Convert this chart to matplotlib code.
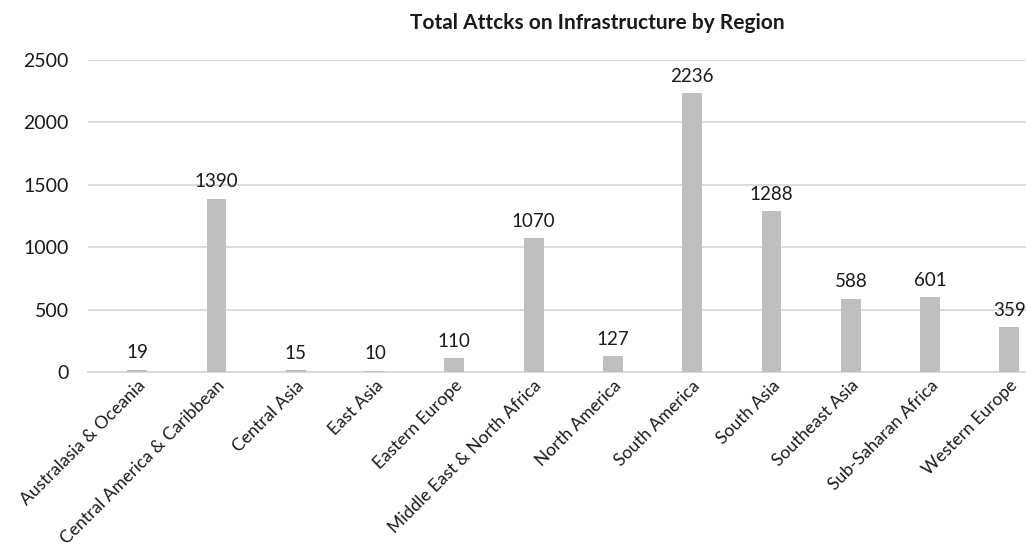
import numpy as np
import matplotlib
matplotlib.use("Agg")
import matplotlib.pyplot as plt
import matplotlib.transforms as mtransforms

# data
regions = ["Australasia & Oceania", "Central America & Caribbean", "Central Asia",
           "East Asia", "Eastern Europe", "Middle East & North Africa",
           "North America", "South America", "South Asia", "Southeast Asia",
           "Sub-Saharan Africa", "Western Europe"]
attacks = [19, 1390, 15, 10, 110, 1070, 127, 2236, 1288, 588, 601, 359]
yticks = [0, 500, 1000, 1500, 2000, 2500]

plt.rcParams['font.family'] = ['Lato', 'DejaVu Sans']
text_col = "#1a1a1a"

fig = plt.figure(figsize=(10.26, 5.52), dpi=100)
ax = fig.add_axes([88/1026, 180/552, 938/1026, 312/552])

x = np.arange(len(regions))
bars = ax.bar(x, attacks, width=0.25, color="#BFBFBF", zorder=3)

for xi, v in zip(x, attacks):
    ax.annotate(str(v), (xi, v), xytext=(0, 6), textcoords="offset points",
                ha="center", va="bottom", fontsize=13.5, color=text_col)

ax.set_ylim(0, 2500)
ax.set_xlim(-0.62, 11.21)
ax.set_yticks(yticks)
ax.set_yticklabels([str(t) for t in yticks], fontsize=14, color=text_col)
ax.yaxis.grid(True, color="#D9D9D9", linewidth=1.3, zorder=0)
ax.set_xticks(x)
ax.set_xticklabels(regions, rotation=45, ha="right", rotation_mode="anchor",
                   fontsize=12.6, color=text_col)
# nudge the slanted labels a bit to the right, like the original
shift = mtransforms.ScaledTranslation(7/100, 0, fig.dpi_scale_trans)
for lbl in ax.get_xticklabels():
    lbl.set_transform(lbl.get_transform() + shift)
ax.tick_params(axis="both", length=0)
ax.tick_params(axis="y", pad=14)
ax.tick_params(axis="x", pad=4)
for s in ["top", "right", "left"]:
    ax.spines[s].set_visible(False)
ax.spines["bottom"].set_color("#D9D9D9")
ax.spines["bottom"].set_linewidth(1.3)

fig.text(0.582, 0.958, "Total Attcks on Infrastructure by Region", ha="center", va="center",
         fontsize=15, fontweight="bold", color=text_col)

fig.savefig("out.png", dpi=100)
